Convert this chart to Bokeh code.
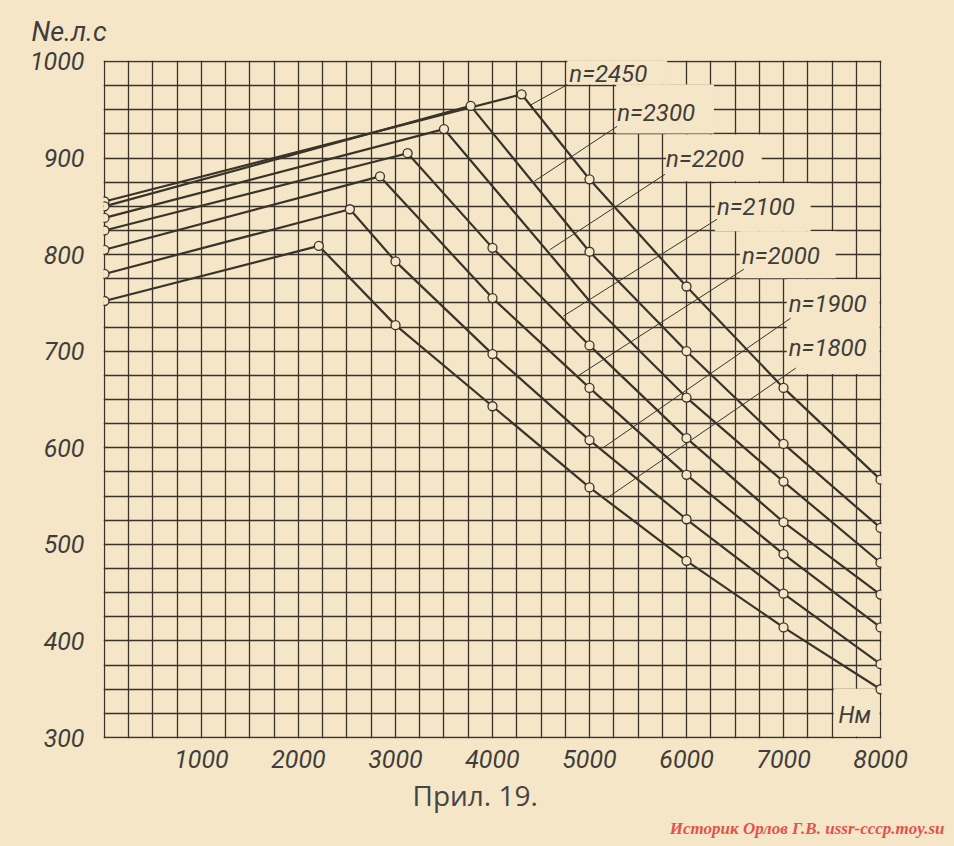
from bokeh.plotting import figure
from bokeh.models import (Range1d, FixedTicker, SingleIntervalTicker,
                          ColumnDataSource, LabelSet, Label, Title)
from bokeh.core.properties import value
from bokeh.embed import file_html
from bokeh.resources import INLINE

# ---------------- data ----------------
speed_labels = ["n=2450", "n=2300", "n=2200", "n=2100", "n=2000", "n=1900", "n=1800"]

x_2450 = [0, 4300, 5000, 6000, 7000, 8000]
ne_2450 = [855, 966, 878, 767, 662, 567]
mk_2450 = [1, 1, 1, 1, 1, 1]

x_2300 = [0, 3775, 5000, 6000, 7000, 8000]
ne_2300 = [850, 954, 803, 700, 604, 517]
mk_2300 = [1, 1, 1, 1, 1, 1]

x_2200 = [0, 3500, 5000, 6000, 7000, 8000]
ne_2200 = [838, 930, 752, 652, 565, 481]
mk_2200 = [1, 1, 0, 1, 1, 1]

x_2100 = [0, 3125, 4000, 5000, 6000, 7000, 8000]
ne_2100 = [825, 905, 807, 706, 610, 523, 448]
mk_2100 = [1, 1, 1, 1, 1, 1, 1]

x_2000 = [0, 2840, 4000, 5000, 6000, 7000, 8000]
ne_2000 = [805, 881, 755, 662, 572, 490, 414]
mk_2000 = [1, 1, 1, 1, 1, 1, 1]

x_1900 = [0, 2530, 3000, 4000, 5000, 6000, 7000, 8000]
ne_1900 = [780, 847, 793, 697, 608, 526, 449, 376]
mk_1900 = [1, 1, 1, 1, 1, 1, 1, 1]

x_1800 = [0, 2210, 3000, 4000, 5000, 6000, 7000, 8000]
ne_1800 = [752, 809, 727, 643, 559, 483, 414, 350]
mk_1800 = [1, 1, 1, 1, 1, 1, 1, 1]

x_tick_values = [1000, 2000, 3000, 4000, 5000, 6000, 7000, 8000]
y_tick_values = [300, 400, 500, 600, 700, 800, 900, 1000]

y_title = "Ne.л.с"
x_unit = "Нм"
caption = "Прил. 19."
watermark = "Историк Орлов Г.В. ussr-cccp.moy.su"

# label anchors, leader lines and the blank boxes behind labels (annotation layout)
lbl_x = [4792, 5285, 5789, 6314, 6571, 7054, 7054]
lbl_y = [987.0, 946.2, 898.7, 849.0, 798.4, 748.7, 703.2]
lead_x0 = [4771, 5285, 5779, 6314, 6591, 7074, 7126]
lead_y0 = [976.0, 932.8, 883.2, 836.6, 784.9, 734.2, 682.5]
lead_x1 = [4391, 4432, 4590, 4730, 4894, 5137, 5183]
lead_y1 = [954.8, 876.0, 805.0, 736.3, 675.3, 599.8, 548.1]
box_l = [4771, 5275, 5789, 6293, 6550, 7033, 7033, 7517]
box_r = [5800, 6283, 6776, 7280, 7537, 7990, 7990, 7990]
box_b = [976.2, 925.5, 875.9, 824.2, 775.6, 724.0, 676.3, 301.2]
box_t = [1002, 976.2, 924.5, 873.8, 824.2, 774.6, 724.0, 350.6]

# ---------------- styling ----------------
PAPER = "#f5e6c8"
INK = "#3a3329"
TXT = "#403d3a"
FONT = "Roboto"

# ranges padded by ~1px so the border lines are ordinary grid lines
p = figure(width=952, height=844, output_backend="svg", toolbar_location=None,
           x_range=Range1d(-10, 8010), y_range=Range1d(299, 1001),
           background_fill_color=PAPER, border_fill_color=PAPER,
           min_border_left=103, min_border_right=71, min_border_top=59, min_border_bottom=106)
p.outline_line_color = None

p.xgrid.ticker = SingleIntervalTicker(interval=250)
p.ygrid.ticker = SingleIntervalTicker(interval=25)
for g in (p.xgrid, p.ygrid):
    g.grid_line_color = INK
    g.grid_line_width = 1.3

p.xaxis.ticker = FixedTicker(ticks=x_tick_values)
p.yaxis.ticker = FixedTicker(ticks=y_tick_values)
for ax in (p.xaxis, p.yaxis):
    ax.axis_line_color = None
    ax.major_tick_line_color = None
    ax.minor_tick_line_color = None
    ax.major_label_text_font = FONT
    ax.major_label_text_font_style = "italic"
    ax.major_label_text_font_size = "25px"
    ax.major_label_text_color = TXT
p.xaxis.major_label_standoff = 5
p.yaxis.major_label_standoff = 13

# blank boxes behind the labels
p.quad(left=box_l, right=box_r, bottom=box_b, top=box_t,
       fill_color=PAPER, line_color=None)

# leader lines
p.segment(x0=lead_x0, y0=lead_y0, x1=lead_x1, y1=lead_y1,
          line_color=INK, line_width=1.0)

curves = [(x_2450, ne_2450, mk_2450), (x_2300, ne_2300, mk_2300),
          (x_2200, ne_2200, mk_2200), (x_2100, ne_2100, mk_2100),
          (x_2000, ne_2000, mk_2000), (x_1900, ne_1900, mk_1900),
          (x_1800, ne_1800, mk_1800)]

for xs, ys, mk in curves:
    p.line(xs, ys, line_color=INK, line_width=2.2)
for xs, ys, mk in curves:
    mx = [x for x, m in zip(xs, mk) if m]
    my = [y for y, m in zip(ys, mk) if m]
    p.scatter(mx, my, marker="circle", size=9, fill_color=PAPER,
              line_color=INK, line_width=1.3)

lab_src = ColumnDataSource(dict(x=lbl_x, y=lbl_y, t=speed_labels))
p.add_layout(LabelSet(x="x", y="y", text="t", source=lab_src,
                      text_font=value(FONT), text_font_style="italic",
                      text_font_size="24px", text_color=TXT,
                      text_baseline="middle", text_align="left"))

p.add_layout(Label(x=7568, y=322.7, text=x_unit, text_font=FONT,
                   text_font_style="italic", text_font_size="23px",
                   text_color=TXT, text_baseline="middle"))

# texts outside the frame
t_y = Title(text=y_title, align="left", offset=-72, standoff=26,
            text_font=FONT, text_font_style="italic", text_font_size="27px",
            text_color=TXT)
p.add_layout(t_y, "above")

t_cap = Title(text=caption, align="left", offset=309, standoff=6,
              text_font="Open Sans", text_font_style="normal", text_font_size="28px",
              text_color="#454443")
p.add_layout(t_cap, "below")

t_wm = Title(text=watermark, align="right", offset=-63, standoff=0,
             text_font="Liberation Serif", text_font_style="bold italic",
             text_font_size="17px", text_color="#e3524b")
p.add_layout(t_wm, "below")

html = file_html(p, INLINE)
html = html.replace("<head>", "<head><style>body{background:%s;}</style>" % PAPER, 1)
open("out.html", "w").write(html)
